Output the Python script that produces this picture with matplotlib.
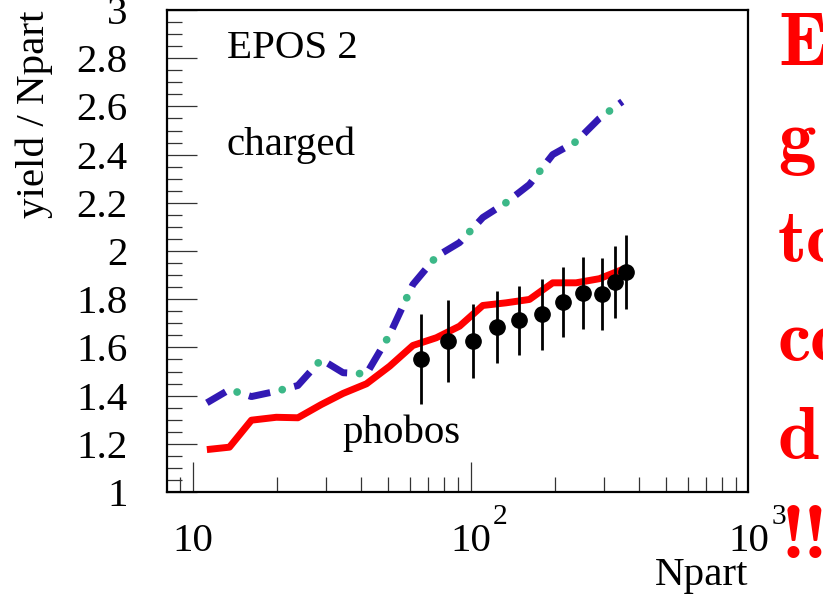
import matplotlib
matplotlib.use("Agg")
import matplotlib.pyplot as plt
import matplotlib.transforms as mtrans
from matplotlib.ticker import FixedLocator, NullFormatter

# ---------------- data ----------------
npart_model = [11.2, 13.5, 16.2, 19.9, 23.8, 28.9, 34.6, 42.0, 50.9, 61.7,
               74.9, 90.8, 110.1, 133.6, 162.0, 196.4, 238.4, 289.0, 349.5]
epos_red = [1.176, 1.186, 1.298, 1.310, 1.308, 1.363, 1.409, 1.449, 1.522, 1.608,
            1.640, 1.688, 1.774, 1.785, 1.799, 1.868, 1.868, 1.885, 1.923]
epos_charged = [1.370, 1.425, 1.396, 1.418, 1.442, 1.550, 1.495, 1.490, 1.653, 1.861,
                1.977, 2.035, 2.139, 2.201, 2.276, 2.400, 2.454, 2.550, 2.620]

npart_data = [66.1, 82.4, 101.3, 124.0, 149.1, 179.9, 213.3, 253.1, 294.5, 329.0, 360.4]
phobos = [1.553, 1.626, 1.626, 1.685, 1.712, 1.737, 1.788, 1.827, 1.820, 1.872, 1.912]
phobos_err = [0.187, 0.170, 0.155, 0.149, 0.144, 0.148, 0.145, 0.149, 0.149, 0.150, 0.153]

y_ticks = [1.0, 1.2, 1.4, 1.6, 1.8, 2.0, 2.2, 2.4, 2.6, 2.8, 3.0]
y_tick_labels = ["1", "1.2", "1.4", "1.6", "1.8", "2", "2.2", "2.4", "2.6", "2.8", "3"]
x_major = [10, 100, 1000]
x_major_base = ["10", "10", "10"]
x_major_exp = ["", "2", "3"]
x_minor = [9, 20, 30, 40, 50, 60, 70, 80, 90, 200, 300, 400, 500, 600, 700, 800, 900]
y_minor = [1.0 + 0.05 * i for i in range(41)]

side_words = ["E", "g", "to", "co", "d", "!!"]

# ---------------- figure ----------------
W, H = 823, 596
fig = plt.figure(figsize=(W / 100, H / 100), dpi=100)
serif = "Liberation Serif"
FS = 29.5

ax = fig.add_axes([167 / W, (H - 492) / H, (748 - 167) / W, (492 - 10) / H])
ax.set_xscale("log")
ax.set_xlim(8.05, 990)
ax.set_ylim(1.0, 3.0)

# model curves
ax.plot(npart_model, epos_red, color="#ff0000", lw=5.0, solid_capstyle="butt", zorder=3)
ax.plot(npart_model, epos_charged, color="#3cb888", lw=5.6,
        linestyle=(1.59, (0.001, 5.99)), dash_capstyle="round", zorder=3)
ax.plot(npart_model, epos_charged, color="#3219b4", lw=5.0,
        linestyle=(0, (3.14, 3.57)), dash_capstyle="butt", zorder=4)

# phobos data
ax.errorbar(npart_data, phobos, yerr=phobos_err, fmt="o", color="black",
            ms=11, elinewidth=2.0, capsize=0, zorder=5)

# axes style (ROOT-like)
for s in ax.spines.values():
    s.set_linewidth(1.6)
    s.set_color("black")

ax.xaxis.set_major_locator(FixedLocator(x_major))
ax.xaxis.set_minor_locator(FixedLocator(x_minor))
ax.xaxis.set_major_formatter(NullFormatter())
ax.xaxis.set_minor_formatter(NullFormatter())
ax.yaxis.set_major_locator(FixedLocator(y_ticks))
ax.yaxis.set_minor_locator(FixedLocator(y_minor))
ax.set_yticklabels(y_tick_labels, fontfamily=serif, fontsize=FS)

ax.tick_params(axis="both", which="major", direction="in", length=21.5, width=0.9,
               top=False, right=False, color="#333333")
ax.tick_params(axis="both", which="minor", direction="in", length=10.8, width=0.9,
               top=False, right=False, color="#333333")
ax.tick_params(axis="y", which="major", pad=28.5)

# x tick labels ROOT style: "10" centred on the tick, exponent hanging right
xt = mtrans.blended_transform_factory(ax.transData, fig.transFigure)
for xv, base, ex in zip(x_major, x_major_base, x_major_exp):
    ax.text(xv, (H - 551) / H, base, transform=xt, ha="center", va="baseline",
            fontfamily=serif, fontsize=FS, clip_on=False)
    if ex:
        tr = mtrans.offset_copy(xt, fig=fig, x=22, y=0, units="dots")
        ax.text(xv, (H - 524) / H, ex, transform=tr, ha="left", va="baseline",
                fontfamily=serif, fontsize=FS * 0.72, clip_on=False)

# axis titles
fig.text(748 / W, (H - 585) / H, "Npart", ha="right", va="baseline",
         fontfamily=serif, fontsize=FS)
fig.text(34 / W, (H - 10) / H, "yield / Npart", rotation=90, ha="center", va="top",
         fontfamily=serif, fontsize=FS)

# annotations inside the frame
fig.text(227 / W, (H - 58) / H, "EPOS 2", ha="left", va="baseline",
         fontfamily=serif, fontsize=FS)
fig.text(226 / W, (H - 155) / H, "charged", ha="left", va="baseline",
         fontfamily=serif, fontsize=FS)
fig.text(342 / W, (H - 443) / H, "phobos", ha="left", va="baseline",
         fontfamily=serif, fontsize=FS)

# red slide text on the right edge (cut off by the image border)
baselines = [65, 161, 262, 361, 459, 558]
xs = [778, 778, 778, 778, 778, 782]
for word, bl, xx in zip(side_words, baselines, xs):
    fig.text(xx / W, (H - bl) / H, word, ha="left", va="baseline",
             fontfamily="cmb10", fontsize=54, color="#ff0000")

fig.savefig("out.png", dpi=100)
